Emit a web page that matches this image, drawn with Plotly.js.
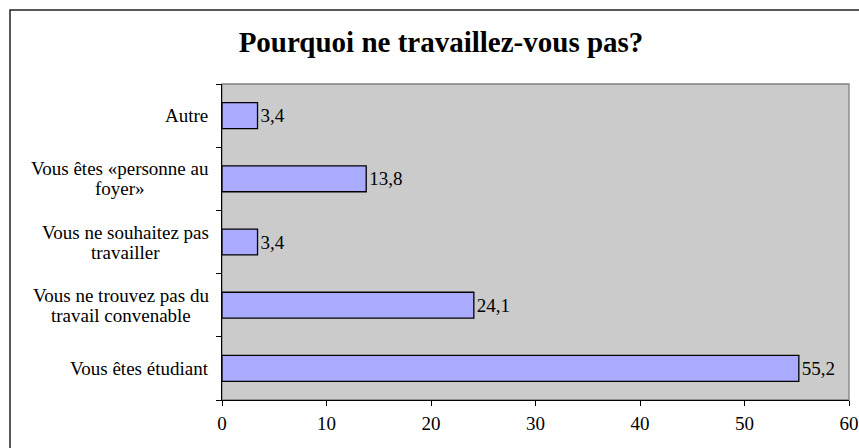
<!DOCTYPE html>
<html>
<head>
<meta charset="utf-8">
<script src="https://cdn.plot.ly/plotly-3.0.1.min.js"></script>
<style>
  html, body { margin: 0; padding: 0; background: #fff; }
  #chart { width: 859px; height: 448px; }
</style>
</head>
<body>
<div id="chart"></div>
<script>
// Data (bottom to top)
const categories = [
  "Vous êtes étudiant",
  "Vous ne trouvez pas du travail convenable",
  "Vous ne souhaitez pas travailler",
  "Vous êtes «personne au foyer»",
  "Autre"
];
const categoryLines = [
  ["Vous êtes étudiant"],
  ["Vous ne trouvez pas du", "travail convenable"],
  ["Vous ne souhaitez pas", "travailler"],
  ["Vous êtes «personne au", "foyer»"],
  ["Autre"]
];
const values = [55.2, 24.1, 3.4, 13.8, 3.4];
const xTicks = [0, 10, 20, 30, 40, 50, 60];
const titleText = "Pourquoi ne travaillez-vous pas?";

const FONT = "Liberation Serif";
const FS = 19;
const W = 859, H = 448;
const ML = 222, MR = 10, MT = 84, MB = 48;
const PW = W - ML - MR, PH = H - MT - MB;
const LABEL_RIGHT = 208.5;   // px, right edge of category label blocks
const LINE_GAP = 20;         // px between label lines

// measure text widths for centering multi-line labels
const ctx = document.createElement("canvas").getContext("2d");
ctx.font = FS + "px 'Liberation Serif'";
function textW(s) { return ctx.measureText(s).width; }

const annotations = [];
categories.forEach((c, i) => {
  const lines = categoryLines[i];
  const blockW = Math.max(...lines.map(textW));
  const centerPx = LABEL_RIGHT - blockW / 2;
  const n = lines.length;
  lines.forEach((ln, j) => {
    annotations.push({
      xref: "paper", yref: "y",
      x: (centerPx - ML) / PW, y: c,
      xanchor: "center", yanchor: "middle",
      yshift: ((n - 1) / 2 - j) * LINE_GAP,
      text: ln,
      showarrow: false,
      font: { family: FONT, size: FS, color: "#000" }
    });
  });
});

const trace = {
  type: "bar",
  orientation: "h",
  x: values,
  y: categories,
  marker: { color: "#AAAAFF", line: { color: "#000000", width: 1.3 } },
  texttemplate: "%{x:.1f}",
  textposition: "outside",
  textfont: { family: FONT, size: FS, color: "#000" },
  cliponaxis: false,
  hoverinfo: "none"
};

const layout = {
  width: W, height: H,
  margin: { l: ML, r: MR, t: MT, b: MB, pad: 0 },
  paper_bgcolor: "#FFFFFF",
  plot_bgcolor: "#CBCBCB",
  separators: ",.",
  showlegend: false,
  bargap: 0.59,
  font: { family: FONT, size: FS, color: "#000" },
  title: {
    text: "<b>" + titleText + "</b>",
    font: { family: FONT, size: 29, color: "#000" },
    x: 441 / W, xanchor: "center",
    y: 1 - 42 / H, yanchor: "middle"
  },
  xaxis: {
    range: [0, 60],
    tickmode: "array",
    tickvals: xTicks,
    ticktext: xTicks.map(String),
    ticks: "outside", ticklen: 5, tickcolor: "#000", tickwidth: 1,
    ticklabelstandoff: 1,
    showline: true, linecolor: "#000", linewidth: 1,
    showgrid: false, zeroline: false,
    tickfont: { family: FONT, size: FS, color: "#000" },
    fixedrange: true
  },
  yaxis: {
    type: "category",
    categoryorder: "array",
    categoryarray: categories,
    tickson: "boundaries",
    ticks: "outside", ticklen: 5, tickcolor: "#000", tickwidth: 1,
    showticklabels: false,
    showline: true, linecolor: "#000", linewidth: 1,
    showgrid: false, zeroline: false,
    fixedrange: true
  },
  annotations: annotations,
  shapes: [
    {
      type: "rect", xref: "paper", yref: "paper",
      x0: 0, x1: 1, y0: 0, y1: 1,
      line: { color: "#808080", width: 1.3 },
      fillcolor: "rgba(0,0,0,0)", layer: "below"
    },
    {
      type: "rect", xref: "paper", yref: "paper",
      x0: (10 - ML) / PW, x1: 1.2,
      y0: -0.3, y1: (H - MB - 10) / PH,
      line: { color: "#222", width: 1.5 },
      fillcolor: "rgba(0,0,0,0)", layer: "above"
    }
  ]
};

Plotly.newPlot("chart", [trace], layout, { staticPlot: true, displayModeBar: false });
</script>
</body>
</html>
